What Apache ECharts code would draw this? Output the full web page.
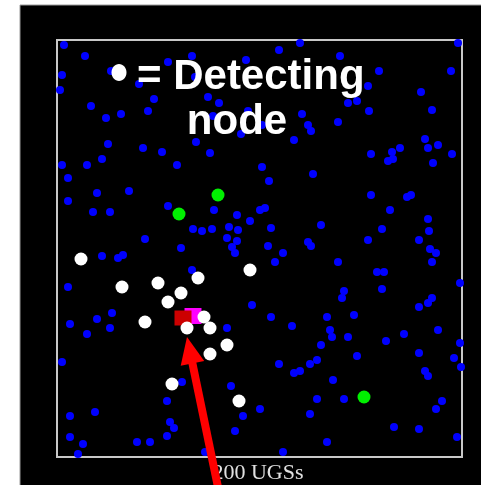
<!DOCTYPE html>
<html><head><meta charset="utf-8">
<script src="https://cdn.jsdelivr.net/npm/echarts@6/dist/echarts.min.js"></script>
<style>html,body{margin:0;padding:0;background:#fff}#c{width:481px;height:485px}</style>
</head><body><div id="c"></div>
<script>
// field coordinates (x right, y up), field 0..405 x 0..417
const fieldX = [0, 405];
const fieldY = [0, 417];
const idleNodes = [
[7,412],[28,401],[111,395],[5,382],[54,386],[82,373],[3,367],[97,358],[34,351],[49,339],
[64,343],[91,346],[51,313],[86,309],[105,305],[45,298],[5,292],[30,292],[120,292],[11,279],
[40,264],[72,266],[11,256],[111,251],[36,245],[53,245],[88,218],[124,209],[136,228],[135,401],
[139,315],[243,414],[222,407],[189,397],[138,380],[151,360],[162,354],[191,346],[156,341],[245,343],
[251,332],[254,326],[205,332],[184,323],[237,317],[153,304],[205,290],[212,276],[256,283],[157,247],
[180,242],[203,247],[208,249],[193,236],[145,226],[155,228],[172,230],[181,227],[214,229],[264,232],
[170,219],[180,216],[175,210],[178,204],[211,211],[251,215],[254,211],[401,414],[283,401],[322,386],
[394,386],[311,371],[291,354],[300,356],[364,365],[312,346],[375,347],[281,335],[368,318],[371,309],
[381,312],[395,303],[343,309],[335,305],[336,298],[331,296],[314,303],[376,294],[314,262],[350,260],
[354,262],[333,247],[371,238],[372,226],[362,217],[325,228],[311,217],[373,208],[379,204],[45,201],
[61,199],[66,202],[135,187],[11,170],[55,144],[40,138],[53,129],[13,133],[30,123],[5,95],
[125,75],[110,56],[38,45],[13,41],[113,35],[117,29],[110,21],[13,20],[26,13],[80,15],
[93,15],[21,3],[226,204],[218,195],[195,152],[214,140],[235,131],[270,140],[170,129],[264,112],
[222,93],[237,84],[243,86],[253,93],[260,97],[174,71],[260,58],[203,48],[186,41],[253,43],
[178,26],[270,15],[226,5],[148,5],[281,195],[320,185],[327,185],[375,195],[287,166],[285,159],
[325,168],[375,159],[371,154],[362,150],[403,174],[273,127],[275,120],[297,142],[291,120],[347,123],
[329,116],[381,127],[403,114],[300,101],[362,104],[397,99],[404,90],[368,86],[371,81],[276,77],
[287,58],[385,56],[379,48],[337,30],[362,28],[400,20]
];
const detectingNodes = [
[24,198],[65,170],[101,174],[124,164],[111,155],[88,135],[130,129],[141,179],
[147,140],[153,129],[170,112],[153,103],[115,73],[182,56],[193,187]
];
const greenNodes = [[122,243],[161,262],[307,60]];
const targetRed = [[126,139]];
const targetMagenta = [[136,141]];
const arrowTip = [130,120];
const arrowTail = [162,-35];
const legendBullet = '\u2022';
const legendLines = ['= Detecting', 'node'];
const fieldLabel = '200 UGSs';

const chart = echarts.init(document.getElementById('c'), null, {renderer:'canvas'});
const base = {
  animation:false,
  backgroundColor:'#ffffff',
  grid:{left:57, top:40, width:405, height:417, show:true, backgroundColor:'#000', borderColor:'#c8c8c8', borderWidth:2, z:1},
  xAxis:{type:'value', min:fieldX[0], max:fieldX[1], show:false},
  yAxis:{type:'value', min:fieldY[0], max:fieldY[1], show:false},
  series:[
    {type:'scatter', data:idleNodes, symbol:'circle', symbolSize:8, clip:false, z:3,
     itemStyle:{color:'#0000ff', opacity:1}},
    {type:'scatter', data:greenNodes, symbol:'circle', symbolSize:13, clip:false, z:4,
     itemStyle:{color:'#00f000', opacity:1}},
    {type:'scatter', data:targetMagenta, symbol:'rect', symbolSize:[17,16], clip:false, z:5,
     itemStyle:{color:'#ff00ff', opacity:1}},
    {type:'scatter', data:targetRed, symbol:'rect', symbolSize:[17,15], clip:false, z:6,
     itemStyle:{color:'#cc0000', opacity:1}},
    {type:'scatter', data:detectingNodes, symbol:'circle', symbolSize:13, clip:false, z:7,
     itemStyle:{color:'#ffffff', opacity:1}}
  ]
};
chart.setOption(base);
const tip = chart.convertToPixel({gridIndex:0}, arrowTip);
const tail = chart.convertToPixel({gridIndex:0}, arrowTail);
const dx = tip[0]-tail[0], dy = tip[1]-tail[1];
const L = Math.sqrt(dx*dx+dy*dy), ux = dx/L, uy = dy/L, px = -uy, py = ux;
const headLen = 27, headW = 12;
const bx = tip[0]-ux*headLen, by = tip[1]-uy*headLen;
const F = 'bold 42px "Liberation Sans", Arial, sans-serif';
chart.setOption({
  graphic:[
    {type:'rect', z:-10, zlevel:0, shape:{x:20, y:5, width:470, height:490},
     style:{fill:'#000', stroke:'#9a9a9a', lineWidth:1}},
    {type:'ellipse', z:100, shape:{cx:119, cy:72.5, rx:7.5, ry:8.5}, style:{fill:'#fff'}},
    {type:'text', z:100, style:{text:legendLines[0], x:137, y:77, align:'left', verticalAlign:'middle',
      font:F, fill:'#fff'}},
    {type:'text', z:100, style:{text:legendLines[1], x:237, y:122, align:'center', verticalAlign:'middle',
      font:F, fill:'#fff'}},
    {type:'text', z:100, style:{text:fieldLabel, x:258, y:473, align:'center', verticalAlign:'middle',
      font:'22px "Liberation Serif", "Times New Roman", serif', fill:'#e0e0e0'}},
    {type:'line', z:110, shape:{x1:tail[0], y1:tail[1], x2:bx+ux*2, y2:by+uy*2},
     style:{stroke:'#ff0000', lineWidth:8}},
    {type:'polygon', z:110, shape:{points:[[tip[0],tip[1]],[bx+px*headW,by+py*headW],[bx-px*headW,by-py*headW]]},
     style:{fill:'#ff0000'}}
  ]
});
</script></body></html>
